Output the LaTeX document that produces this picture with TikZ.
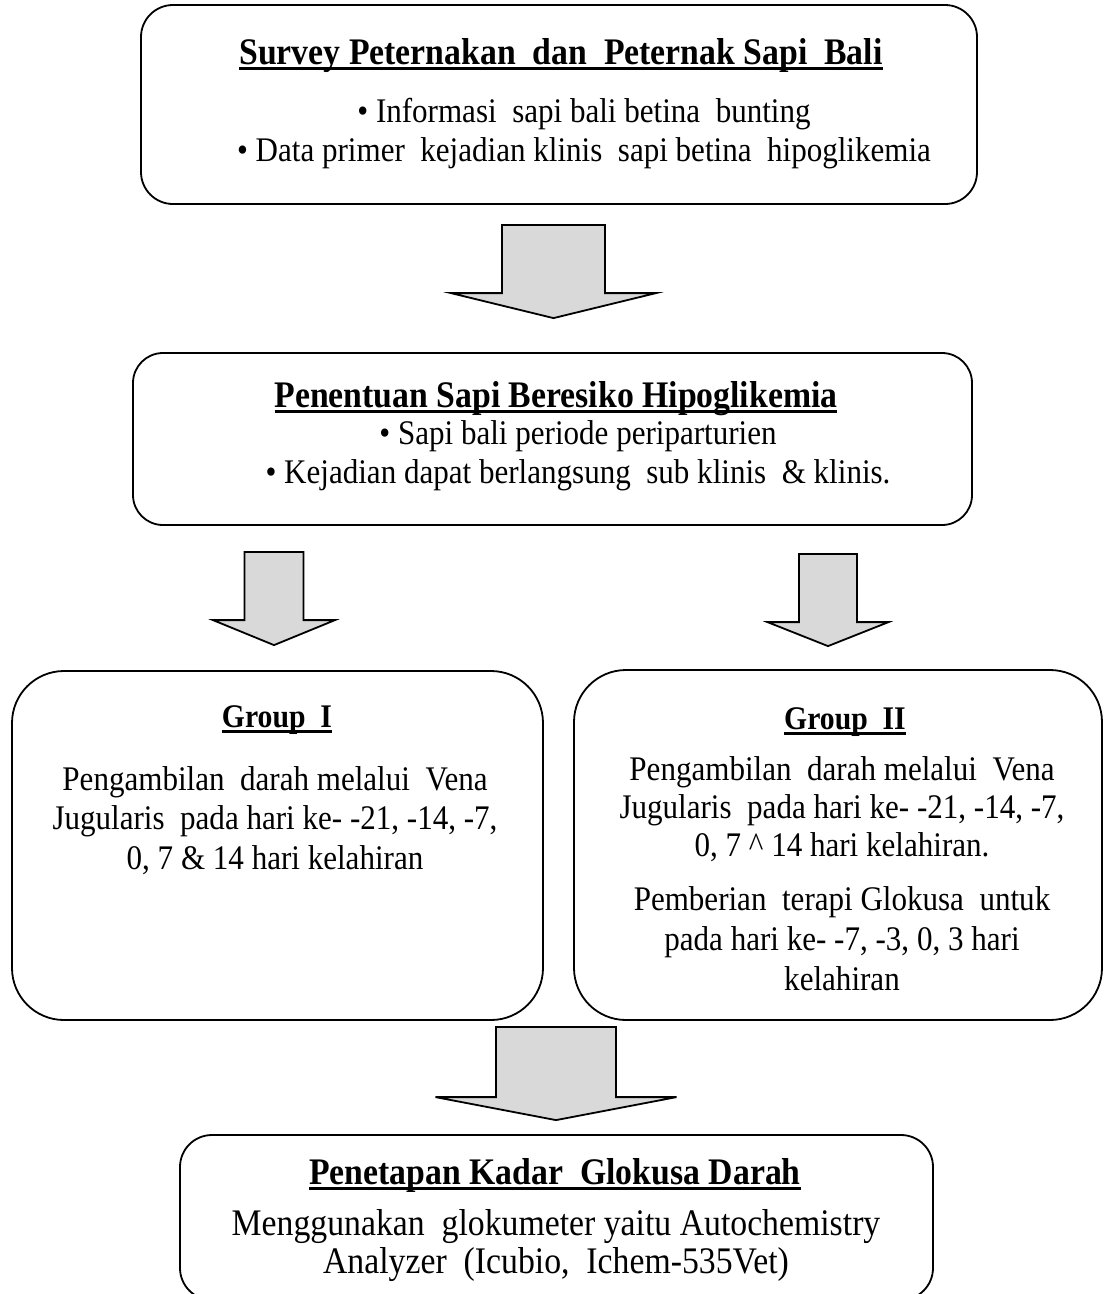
\documentclass[tikz,border=0pt]{standalone}
\usepackage{fontspec}
\setmainfont{Liberation Serif}[FakeStretch=0.9]
\usetikzlibrary{calc}

\definecolor{arrowgray}{RGB}{217,217,217}

\newcommand{\ulhead}[1]{\vtop{\hbox{\bfseries #1}\kern-\prevdepth\kern2.5pt\hrule height 3.5pt}}
\newcommand{\blockarrow}[5]{%
\draw [arrowbody] ($(#1)+(-#3,0)$) -- ($(#2)+(-#3,-#5)$) -- ($(#2)+(-#4,-#5)$) -- (#2)
  -- ($(#2)+(#4,-#5)$) -- ($(#2)+(#3,-#5)$) -- ($(#1)+(#3,0)$) -- cycle;}

\tikzset{
  box/.style={draw, line width=1.8pt, rounded corners=#1, inner sep=0pt},
  box/.default=32pt,
  arrowbody/.style={draw, fill=arrowgray, line width=1.8pt, line join=miter},
  head/.style={inner sep=0pt, anchor=north, font=\fontsize{37.5}{42}\selectfont},
  smallhead/.style={inner sep=0pt, anchor=north, font=\fontsize{33}{38}\selectfont},
  body/.style={inner sep=0pt, anchor=north, align=center, font=\fontsize{34.5}{#1}\selectfont},
  body/.default=39pt,
  bigbody/.style={inner sep=0pt, anchor=north, align=center, font=\fontsize{37.5}{38}\selectfont}
}

\begin{document}
\begin{tikzpicture}[x=1pt, y=-1pt]
\useasboundingbox (0,0) rectangle (1104,1294);

\node (survey) at (559, 104.5) [box, minimum width=836pt, minimum height=199pt] {};
\node (surveyhead) at (561, 38) [head] {\ulhead{Survey Peternakan~ dan~ Peternak Sapi~ Bali}};
\node (surveybody) at (584, 98) [body] {\textbullet\ Informasi~ sapi bali betina~ bunting\\
  \textbullet\ Data primer~ kejadian klinis~ sapi betina~ hipoglikemia};

\node (risk) at (552.5, 439) [box=30pt, minimum width=839pt, minimum height=172pt] {};
\node (riskhead) at (556, 381) [head] {\ulhead{Penentuan Sapi Beresiko Hipoglikemia}};
\node (riskbody) at (578, 420) [body=39.5pt] {\textbullet\ Sapi bali periode periparturien\\
  \textbullet\ Kejadian dapat berlangsung~ sub klinis~ \& klinis.};

\node (groupI) at (277.5, 845.5) [box=52pt, minimum width=531pt, minimum height=349pt] {};
\node (groupIhead) at (277, 705) [smallhead] {\ulhead{Group~ I}};
\node (groupIbody) at (275, 766) [body=39.5pt] {Pengambilan~ darah melalui~ Vena\\
  Jugularis~ pada hari ke- -21, -14, -7,\\
  0, 7 \& 14 hari kelahiran};

\node (groupII) at (838, 845) [box=52pt, minimum width=528pt, minimum height=350pt] {};
\node (groupIIhead) at (845, 707) [smallhead] {\ulhead{Group~ II}};
\node (groupIIbody) at (842, 756) [body=38pt] {Pengambilan~ darah melalui~ Vena\\
  Jugularis~ pada hari ke- -21, -14, -7,\\
  0, 7 \textasciicircum\ 14 hari kelahiran.};
\node (groupIInote) at (842, 886) [body=40pt] {Pemberian~ terapi Glokusa~ untuk\\
  pada hari ke- -7, -3, 0, 3 hari\\
  kelahiran};

\node (glucose) at (556.5, 1217.5) [box, minimum width=753pt, minimum height=165pt] {};
\node (glucosehead) at (555, 1158) [head] {\ulhead{Penetapan Kadar~ Glokusa Darah}};
\node (glucosebody) at (556, 1209) [bigbody] {Menggunakan~ glokumeter yaitu Autochemistry\\
  Analyzer~ (Icubio,~ Ichem-535Vet)};

\coordinate (a1top) at ($(survey.south)+(-5.5,20)$);
\coordinate (a1tip) at ($(risk.north -| a1top)+(0,-34)$);
\coordinate (a2top) at ($(risk.south)+(-278.5,26)$);
\coordinate (a2tip) at ($(groupI.north -| a2top)+(0,-25)$);
\coordinate (a3top) at ($(risk.south)+(275.5,28)$);
\coordinate (a3tip) at ($(groupII.north -| a3top)+(0,-23)$);
\coordinate (a4top) at ($(groupI.south east)!0.5!(groupII.south west)+(-2.5,6)$);
\coordinate (a4tip) at ($(glucose.north -| a4top)+(0,-14)$);

\blockarrow{a1top}{a1tip}{51.5}{102.5}{25}
\blockarrow{a2top}{a2tip}{29.5}{61}{25}
\blockarrow{a3top}{a3tip}{29}{60.5}{24}
\blockarrow{a4top}{a4tip}{60}{120.5}{23}
\end{tikzpicture}
\end{document}
